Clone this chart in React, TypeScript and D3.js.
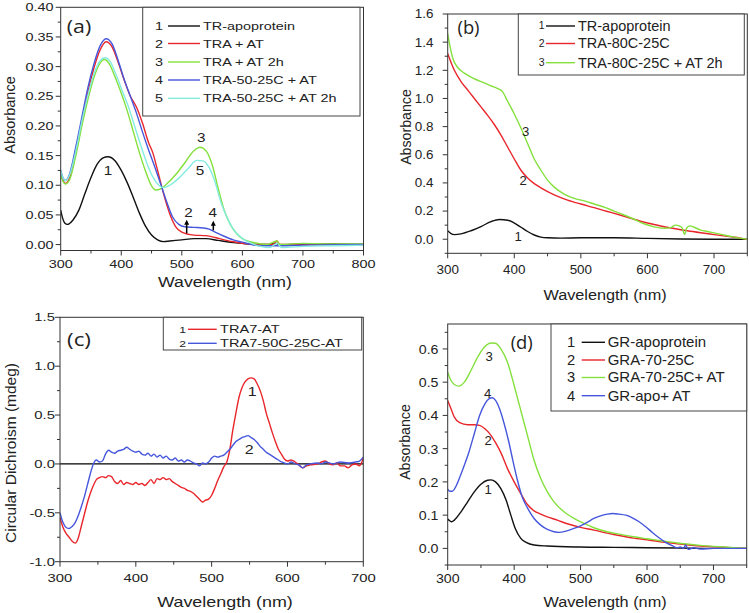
import React from 'react';
import * as d3 from 'd3';

type Pt = [number, number];

// ---------- Panel (a) data: UV-Vis absorbance ----------
const aApo: Pt[] = [[300,.058],[303,.045],[307,.036],[311,.034],[320,.041],[330,.058],[340,.086],[350,.113],[360,.135],[370,.146],[378,.148],[390,.141],[400,.125],[410,.104],[420,.079],[430,.053],[440,.031],[450,.016],[460,.008],[470,.005],[480,.006],[500,.008],[520,.01],[540,.01],[560,.007],[580,.004],[600,.002],[620,0],[640,0],[656,.002],[660,-.001],[700,0],[750,.001],[800,0]];
const aTRA: Pt[] = [[300,.122],[304,.108],[308,.103],[315,.113],[325,.158],[335,.208],[345,.258],[355,.298],[365,.328],[375,.342],[385,.333],[395,.307],[405,.277],[415,.25],[425,.232],[435,.205],[445,.172],[452,.155],[460,.125],[470,.085],[480,.052],[490,.03],[500,.021],[520,.016],[540,.015],[555,.012],[570,.008],[590,.004],[610,.001],[630,0],[650,0],[657,.006],[662,0],[700,.001],[750,0],[800,0]];
const aTRA2h: Pt[] = [[300,.118],[304,.106],[308,.102],[315,.11],[325,.15],[335,.2],[345,.245],[355,.282],[365,.306],[372,.312],[380,.305],[390,.282],[400,.255],[410,.225],[420,.19],[430,.155],[440,.124],[450,.099],[457,.092],[465,.094],[475,.102],[490,.118],[505,.138],[520,.158],[530,.164],[540,.158],[550,.135],[560,.095],[570,.058],[580,.034],[590,.019],[600,.01],[620,.003],[640,0],[657,.006],[662,0],[700,.002],[750,.001],[800,.001]];
const aTRA50: Pt[] = [[300,.125],[304,.112],[308,.108],[315,.12],[325,.165],[335,.215],[345,.265],[355,.305],[365,.335],[375,.347],[385,.338],[395,.31],[405,.278],[415,.25],[425,.222],[435,.19],[445,.16],[455,.132],[465,.102],[475,.072],[485,.046],[495,.034],[505,.03],[520,.029],[535,.028],[545,.026],[555,.021],[570,.014],[585,.008],[600,.004],[615,0],[630,-.002],[650,-.002],[700,-.001],[800,0]];
const aTRA50_2h: Pt[] = [[300,.125],[304,.112],[308,.108],[315,.118],[325,.158],[335,.208],[345,.252],[355,.288],[365,.31],[373,.315],[382,.308],[392,.285],[402,.258],[412,.232],[422,.2],[432,.168],[442,.138],[452,.114],[462,.1],[470,.096],[480,.1],[495,.112],[510,.128],[525,.142],[535,.141],[545,.13],[555,.105],[565,.07],[575,.045],[585,.026],[600,.01],[615,.002],[630,-.003],[645,-.005],[657,.002],[665,-.005],[700,-.003],[750,-.002],[800,-.001]];
const aXTicks = [300, 400, 500, 600, 700, 800];
const aYTicks = [0, 0.05, 0.1, 0.15, 0.2, 0.25, 0.3, 0.35, 0.4];
const aLegend = ['TR-apoprotein', 'TRA + AT', 'TRA + AT 2h', 'TRA-50-25C + AT', 'TRA-50-25C + AT 2h'];

// ---------- Panel (b) data ----------
const bApo: Pt[] = [[300,.06],[305,.04],[310,.033],[320,.038],[335,.06],[350,.09],[365,.125],[378,.14],[390,.135],[400,.115],[410,.085],[420,.055],[430,.03],[440,.015],[450,.01],[470,.008],[500,.01],[550,.01],[600,.006],[650,.002],[700,0],[750,0]];
const bTRA80: Pt[] = [[300,1.32],[310,1.2],[320,1.12],[330,1.06],[340,1.0],[350,.94],[360,.88],[370,.815],[380,.74],[390,.655],[400,.57],[410,.49],[420,.435],[430,.395],[440,.365],[460,.315],[480,.278],[500,.25],[520,.224],[540,.197],[560,.17],[580,.142],[600,.115],[620,.094],[640,.076],[660,.06],[680,.046],[700,.033],[720,.02],[740,.008],[750,0]];
const bTRA80AT: Pt[] = [[300,1.46],[303,1.38],[308,1.28],[315,1.22],[325,1.18],[340,1.14],[355,1.11],[365,1.09],[375,1.07],[382,1.05],[390,.98],[400,.89],[410,.79],[420,.68],[430,.57],[440,.49],[450,.42],[460,.37],[475,.32],[490,.29],[505,.272],[520,.25],[535,.228],[550,.2],[565,.172],[580,.142],[595,.11],[610,.088],[625,.078],[635,.082],[642,.1],[648,.095],[652,.08],[656,.035],[659,.08],[664,.095],[670,.085],[680,.065],[690,.055],[700,.045],[715,.03],[730,.015],[750,0]];
const bXTicks = [300, 400, 500, 600, 700];
const bYTicks = [0, 0.2, 0.4, 0.6, 0.8, 1.0, 1.2, 1.4, 1.6];
const bLegend = ['TR-apoprotein', 'TRA-80C-25C', 'TRA-80C-25C + AT 2h'];

// ---------- Panel (c) data: circular dichroism ----------
const cTRA7: Pt[] = [[300,-.55],[304,-.65],[308,-.71],[312,-.75],[316,-.79],[320,-.81],[324,-.76],[328,-.64],[332,-.52],[336,-.4],[340,-.3],[344,-.22],[348,-.16],[352,-.14],[356,-.13],[360,-.14],[364,-.12],[368,-.13],[372,-.18],[376,-.2],[380,-.17],[384,-.21],[388,-.19],[392,-.2],[396,-.21],[400,-.19],[404,-.21],[408,-.2],[412,-.22],[416,-.19],[420,-.16],[424,-.2],[428,-.15],[432,-.16],[436,-.14],[440,-.16],[444,-.15],[448,-.18],[452,-.2],[456,-.22],[460,-.24],[464,-.25],[468,-.27],[472,-.28],[476,-.3],[480,-.33],[484,-.36],[488,-.39],[492,-.37],[496,-.36],[500,-.32],[504,-.25],[508,-.17],[512,-.1],[516,-.03],[520,.02],[524,.15],[528,.35],[532,.52],[536,.68],[540,.78],[544,.84],[548,.87],[552,.88],[556,.87],[560,.82],[564,.75],[568,.65],[572,.52],[576,.42],[580,.32],[584,.23],[588,.15],[592,.1],[596,.05],[600,.03],[605,.04],[610,.02],[615,-.01],[620,-.04],[625,-.02],[630,-.01],[640,0],[645,.02],[650,.03],[655,0],[660,-.01],[665,.01],[670,-.02],[675,-.02],[680,-.04],[685,-.01],[690,0],[695,-.02],[700,.06]];
const cTRA7_50: Pt[] = [[300,-.5],[304,-.6],[308,-.65],[312,-.66],[316,-.64],[320,-.6],[324,-.53],[328,-.44],[332,-.34],[336,-.22],[340,-.1],[344,0],[348,.04],[352,.02],[356,.03],[360,.1],[364,.14],[368,.12],[372,.11],[376,.13],[380,.14],[384,.15],[388,.17],[392,.15],[396,.13],[400,.12],[404,.13],[408,.1],[412,.09],[416,.11],[420,.08],[424,.1],[428,.07],[432,.09],[436,.06],[440,.08],[444,.05],[448,.04],[452,.06],[456,.03],[460,.04],[464,.02],[468,.04],[472,.03],[476,.01],[480,0],[484,-.02],[488,.01],[492,0],[496,.02],[500,.06],[504,.08],[508,.07],[512,.08],[516,.09],[520,.12],[524,.15],[528,.19],[532,.23],[536,.25],[540,.27],[544,.28],[548,.29],[552,.27],[556,.25],[560,.22],[564,.18],[568,.15],[572,.12],[576,.1],[580,.08],[584,.06],[588,.04],[592,.02],[596,.01],[600,0],[605,.02],[610,0],[615,-.01],[620,-.04],[625,-.01],[630,0],[640,.01],[645,0],[650,.02],[660,0],[670,.02],[680,.01],[690,.02],[695,.03],[700,.07]];
const cXTicks = [300, 400, 500, 600, 700];
const cYTicks = [-1.0, -0.5, 0, 0.5, 1.0, 1.5];
const cLegend = ['TRA7-AT', 'TRA7-50C-25C-AT'];

// ---------- Panel (d) data ----------
const dGRApo: Pt[] = [[300,.088],[303,.083],[306,.08],[310,.085],[320,.11],[330,.14],[340,.17],[350,.193],[360,.205],[365,.206],[372,.2],[380,.18],[388,.145],[395,.1],[402,.058],[410,.03],[418,.018],[430,.01],[450,.007],[500,.004],[550,.003],[600,.002],[650,.001],[700,0],[750,0]];
const dGRA70: Pt[] = [[300,.445],[305,.42],[310,.395],[318,.378],[330,.372],[340,.372],[348,.37],[356,.36],[364,.343],[372,.318],[380,.288],[390,.24],[400,.2],[410,.165],[420,.132],[430,.113],[440,.103],[450,.095],[465,.085],[480,.074],[500,.063],[520,.055],[540,.046],[560,.038],[580,.031],[600,.026],[620,.02],[640,.015],[660,.011],[680,.007],[700,.005],[720,.003],[750,0]];
const dGRA70AT: Pt[] = [[300,.53],[305,.505],[310,.493],[317,.488],[325,.5],[335,.535],[345,.575],[355,.605],[365,.618],[372,.617],[380,.6],[390,.56],[400,.49],[410,.415],[420,.34],[430,.265],[440,.21],[450,.17],[460,.14],[475,.11],[490,.09],[505,.075],[520,.062],[540,.05],[560,.042],[580,.035],[600,.029],[620,.023],[640,.018],[660,.013],[680,.009],[700,.006],[725,.003],[750,0]];
const dGRApoAT: Pt[] = [[300,.178],[303,.172],[307,.172],[312,.185],[318,.213],[325,.25],[332,.29],[340,.345],[348,.4],[356,.435],[362,.45],[367,.453],[372,.445],[378,.42],[385,.375],[392,.32],[398,.265],[405,.205],[412,.155],[420,.122],[430,.09],[440,.07],[450,.057],[460,.05],[468,.048],[478,.052],[490,.06],[500,.068],[510,.078],[520,.09],[530,.098],[540,.103],[548,.105],[558,.103],[568,.1],[578,.092],[588,.08],[598,.065],[608,.048],[618,.032],[628,.018],[638,.008],[645,.002],[650,.004],[655,0],[658,.01],[662,-.003],[670,.002],[680,-.002],[700,0],[720,0],[750,0]];
const dXTicks = [300, 400, 500, 600, 700];
const dYTicks = [0, 0.1, 0.2, 0.3, 0.4, 0.5, 0.6];
const dLegend = ['GR-apoprotein', 'GRA-70-25C', 'GRA-70-25C+ AT', 'GR-apo+ AT'];

const C = { black: '#111111', red: '#e8262c', green: '#84e03c', blue: '#4657dc', cyan: '#84ecdf' };
const FONT = '"Liberation Sans", Arial, Helvetica, sans-serif';

interface Ann { t: string; x: number; y: number }
interface Spec {
  l: number; r: number; t: number; b: number;
  xDom: [number, number]; yDom: [number, number];
  xTicks: number[]; yTicks: number[]; yMinorStep: number; yFmt: (v: number) => string;
  series: { data: Pt[]; color: string }[];
  sx: number; tickFs: number; titleFs: number; yTitleFs: number; legFs: number; numFs: number;
  xTickY: number; yTickEnd: number;
  yTitle: string; yTitlePos: [number, number]; xTitlePos: [number, number];
  letter: string; letterPos: [number, number];
  legend: { labels: string[]; box: [number, number, number, number]; rows: number[]; numX: number; lineX: [number, number]; textX: number };
  anns: Ann[]; arrows?: { x: number; y0: number; y1: number }[];
  zeroLine?: boolean;
}

function Panel({ s, id }: { s: Spec; id: string }) {
  const x = d3.scaleLinear().domain(s.xDom).range([s.l, s.r]);
  const y = d3.scaleLinear().domain(s.yDom).range([s.b, s.t]);
  const line = d3.line<Pt>().x(d => x(d[0])).y(d => y(d[1])).curve(d3.curveMonotoneX);
  const xMinor = d3.range(s.xDom[0], s.xDom[1] + 0.001, 50);
  const yMinor = d3.range(Math.ceil(s.yDom[0] / s.yMinorStep) * s.yMinorStep, s.yDom[1] + 1e-9, s.yMinorStep);
  const txt = (px: number, py: number, content: string, fs: number, anchor = 'middle', fam = FONT, key?: string) => (
    <text key={key} transform={`translate(${px},${py}) scale(${s.sx},1)`} fontSize={fs} fontFamily={fam} fontWeight={400}
      textAnchor={anchor} dominantBaseline="central" fill="#222">{content}</text>
  );
  const axisCol = '#333';
  const L = s.legend;
  return (
    <g>
      <defs>
        <clipPath id={id}><rect x={s.l} y={s.t} width={s.r - s.l} height={s.b - s.t} /></clipPath>
      </defs>
      {s.zeroLine && <line x1={s.l} x2={s.r} y1={y(0)} y2={y(0)} stroke="#000" strokeWidth={1.2} />}
      <g clipPath={`url(#${id})`}>
        {s.series.map((se, i) => (
          <path key={i} d={line(se.data) || ''} fill="none" stroke={se.color} strokeWidth={1.4} strokeLinejoin="round" />
        ))}
      </g>
      <rect x={s.l} y={s.t} width={s.r - s.l} height={s.b - s.t} fill="none" stroke={axisCol} strokeWidth={1} />
      {xMinor.map((v, i) => (
        <line key={'xm' + i} x1={x(v)} x2={x(v)} y1={s.b} y2={s.b + (s.xTicks.includes(v) ? 5 : 3)} stroke={axisCol} />
      ))}
      {yMinor.map((v, i) => (
        <line key={'ym' + i} x1={s.l} x2={s.l - (s.yTicks.some(t => Math.abs(t - v) < 1e-9) ? 5 : 3)} y1={y(v)} y2={y(v)} stroke={axisCol} />
      ))}
      {s.xTicks.map((v, i) => txt(x(v), s.xTickY, String(v), s.tickFs, 'middle', FONT, 'xt' + i))}
      {s.yTicks.map((v, i) => txt(s.yTickEnd, y(v), s.yFmt(v), s.tickFs, 'end', FONT, 'yt' + i))}
      {txt(s.xTitlePos[0], s.xTitlePos[1], 'Wavelength (nm)', s.titleFs)}
      <text transform={`translate(${s.yTitlePos[0]},${s.yTitlePos[1]}) rotate(-90)`} fontSize={s.yTitleFs}
        fontFamily={FONT} fontWeight={400} textAnchor="middle" dominantBaseline="central" fill="#222">{s.yTitle}</text>
      {txt(s.letterPos[0], s.letterPos[1], s.letter, 17.5, 'middle', '"Open Sans", "DejaVu Sans", sans-serif')}
      <rect x={L.box[0]} y={L.box[1]} width={L.box[2] - L.box[0]} height={L.box[3] - L.box[1]} fill="#fff" stroke="#444" strokeWidth={1} />
      {L.labels.map((lab, i) => (
        <g key={'lg' + i}>
          {txt(L.numX, L.rows[i], String(i + 1), s.numFs, 'middle', FONT)}
          <line x1={L.lineX[0]} x2={L.lineX[1]} y1={L.rows[i]} y2={L.rows[i]} stroke={s.series[i].color} strokeWidth={1.4} />
          {txt(L.textX, L.rows[i], lab, s.legFs, 'start', FONT)}
        </g>
      ))}
      {s.anns.map((a, i) => txt(x(a.x), y(a.y), a.t, 12.5, 'middle', FONT, 'an' + i))}
      {(s.arrows || []).map((a, i) => (
        <g key={'ar' + i}>
          <line x1={x(a.x)} x2={x(a.x)} y1={y(a.y0)} y2={y(a.y1) + 4} stroke="#000" strokeWidth={1.5} />
          <path d={`M${x(a.x) - 2.5},${y(a.y1) + 5} L${x(a.x) + 2.5},${y(a.y1) + 5} L${x(a.x)},${y(a.y1)} Z`} fill="#000" />
        </g>
      ))}
    </g>
  );
}

const f2 = (v: number) => v.toFixed(2);
const f1 = (v: number) => v.toFixed(1);

const specs: Spec[] = [
  {
    l: 60.7, r: 363.5, t: 7.3, b: 250.5, xDom: [300, 800], yDom: [-0.01, 0.4],
    xTicks: aXTicks, yTicks: aYTicks, yMinorStep: 0.025, yFmt: f2,
    series: [{ data: aApo, color: C.black }, { data: aTRA, color: C.red }, { data: aTRA2h, color: C.green }, { data: aTRA50, color: C.blue }, { data: aTRA50_2h, color: C.cyan }],
    sx: 1.22, tickFs: 11.8, titleFs: 14.5, yTitleFs: 14.5, legFs: 11.8, numFs: 11.8,
    xTickY: 263.5, yTickEnd: 53.5,
    yTitle: 'Absorbance', yTitlePos: [9.5, 115], xTitlePos: [225, 282],
    letter: '(a)', letterPos: [79, 26],
    legend: { labels: aLegend, box: [142.7, 7.3, 360, 116], rows: [26, 43.5, 62, 80, 98.3], numX: 159, lineX: [168, 200], textX: 203 },
    anns: [{ t: '1', x: 378, y: 0.125 }, { t: '3', x: 532, y: 0.181 }, { t: '5', x: 530, y: 0.124 }, { t: '2', x: 511, y: 0.0545 }, { t: '4', x: 551, y: 0.0545 }],
    arrows: [{ x: 508, y0: 0.019, y1: 0.042 }, { x: 552, y0: 0.024, y1: 0.04 }],
  },
  {
    l: 447.7, r: 747.3, t: 14, b: 253.3, xDom: [300, 750], yDom: [-0.1, 1.6],
    xTicks: bXTicks, yTicks: bYTicks, yMinorStep: 0.1, yFmt: f1,
    series: [{ data: bApo, color: C.black }, { data: bTRA80, color: C.red }, { data: bTRA80AT, color: C.green }],
    sx: 1.05, tickFs: 12.8, titleFs: 15.5, yTitleFs: 14.2, legFs: 13.8, numFs: 10,
    xTickY: 270, yTickEnd: 433.5,
    yTitle: 'Absorbance', yTitlePos: [406, 127], xTitlePos: [605, 295],
    letter: '(b)', letterPos: [468.5, 27],
    legend: { labels: bLegend, box: [518.3, 14, 744.3, 75], rows: [26, 43.5, 62.7], numX: 541.7, lineX: [546, 575], textX: 578 },
    anns: [{ t: '3', x: 417, y: 0.767 }, { t: '2', x: 413.5, y: 0.418 }, { t: '1', x: 406, y: 0.016 }],
  },
  {
    l: 60, r: 363.3, t: 317.3, b: 561.7, xDom: [300, 700], yDom: [-1, 1.5],
    xTicks: cXTicks, yTicks: cYTicks, yMinorStep: 0.25, yFmt: f1,
    series: [{ data: cTRA7, color: C.red }, { data: cTRA7_50, color: C.blue }],
    sx: 1.28, tickFs: 11.6, titleFs: 14, yTitleFs: 15.5, legFs: 11.4, numFs: 9.5,
    xTickY: 578, yTickEnd: 55,
    yTitle: 'Circular Dichroism (mdeg)', yTitlePos: [10.5, 453], xTitlePos: [225, 601.5],
    letter: '(c)', letterPos: [79, 339],
    legend: { labels: cLegend, box: [163.3, 317.3, 361.7, 350], rows: [329.3, 343.3], numX: 182.7, lineX: [188, 216.7], textX: 220 },
    anns: [{ t: '1', x: 553.6, y: 0.739 }, { t: '2', x: 549.6, y: 0.149 }],
    zeroLine: true,
  },
  {
    l: 447.7, r: 746.7, t: 324, b: 565, xDom: [300, 750], yDom: [-0.05, 0.675],
    xTicks: dXTicks, yTicks: dYTicks, yMinorStep: 0.05, yFmt: f1,
    series: [{ data: dGRApo, color: C.black }, { data: dGRA70, color: C.red }, { data: dGRA70AT, color: C.green }, { data: dGRApoAT, color: C.blue }],
    sx: 1.05, tickFs: 13.5, titleFs: 15.5, yTitleFs: 14.2, legFs: 14.3, numFs: 14,
    xTickY: 578, yTickEnd: 438.5,
    yTitle: 'Absorbance', yTitlePos: [405, 442], xTitlePos: [605, 601.5],
    letter: '(d)', letterPos: [521.7, 342.5],
    legend: { labels: dLegend, box: [551, 324, 746.7, 411], rows: [342.3, 360, 377.5, 395.7], numX: 571, lineX: [581.7, 605], textX: 607.7 },
    anns: [{ t: '3', x: 362.5, y: 0.576 }, { t: '4', x: 360, y: 0.466 }, { t: '2', x: 361, y: 0.3255 }, { t: '1', x: 361, y: 0.177 }],
  },
];

export default function App() {
  return (
    <svg width={749} height={613} viewBox="0 0 749 613"
      style={{ position: 'absolute', left: 0, top: 0, background: '#fff' }}>
      <rect x={0} y={0} width={749} height={613} fill="#fff" />
      {specs.map((s, i) => <Panel key={i} s={s} id={'clip' + i} />)}
    </svg>
  );
}
